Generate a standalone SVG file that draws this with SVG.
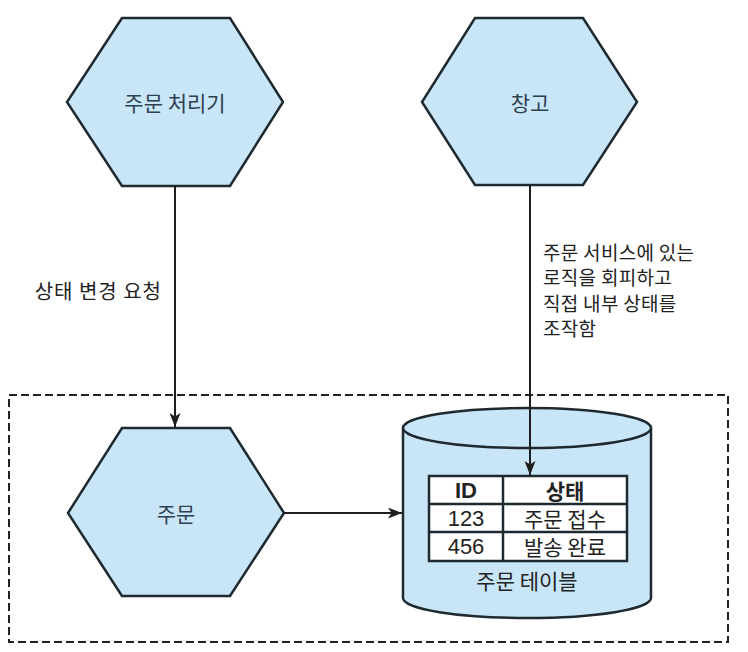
<svg xmlns="http://www.w3.org/2000/svg" width="748" height="652" viewBox="0 0 748 652">
<defs>
<style>
.hex{fill:#c8e6f8;stroke:#1e2a30;stroke-width:2.5;stroke-linejoin:miter}
.hl{font-family:"Noto Sans CJK KR","Noto Sans",sans-serif;font-size:21px;fill:#2f4050;text-anchor:middle;dominant-baseline:central}
.lbl{font-family:"Noto Sans CJK KR","Noto Sans",sans-serif;font-size:20px;fill:#222;dominant-baseline:central}
.rl{font-family:"Noto Sans CJK KR","Noto Sans",sans-serif;font-size:19px;fill:#222;dominant-baseline:central;letter-spacing:0.3px}
.conn{stroke:#1e1e1e;stroke-width:2;fill:none}
.cyl{fill:#c8e6f8;stroke:#1e2a30;stroke-width:2.5}
.cell{fill:#fff;stroke:#1e2a30;stroke-width:2.5}
.tt{font-family:"Liberation Sans","Noto Sans CJK KR",sans-serif;font-size:22px;fill:#222;text-anchor:middle;dominant-baseline:central}
.tk{font-family:"Noto Sans CJK KR",sans-serif;font-size:21px;fill:#222;text-anchor:middle;dominant-baseline:central}
</style>
<marker id="ah" viewBox="0 0 14 11" refX="14" refY="5.5" markerWidth="14" markerHeight="11" markerUnits="userSpaceOnUse" orient="auto">
<path d="M0,0 L14,5.5 L0,11 L3.5,5.5 Z" fill="#1e1e1e"/>
</marker>
</defs>
<rect x="9" y="395" width="719" height="247" fill="none" stroke="#222" stroke-width="2" stroke-dasharray="8,4"/>
<g id="order-processor">
<polygon class="hex" points="122,18 230,18 283,102 230,186 122,186 67,102"/>
<text class="hl" x="175" y="102">주문 처리기</text>
</g>
<g id="warehouse">
<polygon class="hex" points="475,18 583,18 637,102 583,185 475,185 422,102"/>
<text class="hl" x="530" y="102">창고</text>
</g>
<g id="order">
<polygon class="hex" points="122,428 230,428 284,513 230,596 122,596 68,513"/>
<text class="hl" x="176" y="513">주문</text>
</g>
<g id="order-table">
<path class="cyl" d="M403,428 L403,598 A124,20 0 0 0 651,598 L651,428"/>
<ellipse class="cyl" cx="527" cy="428" rx="124" ry="20"/>
<rect class="cell" x="429" y="476" width="198" height="85"/>
<line stroke="#1e2a30" stroke-width="2.5" x1="429" y1="504" x2="627" y2="504"/>
<line stroke="#1e2a30" stroke-width="2.5" x1="429" y1="532" x2="627" y2="532"/>
<line stroke="#1e2a30" stroke-width="2.5" x1="503" y1="476" x2="503" y2="561"/>
<text class="tt" x="466" y="490" font-weight="bold">ID</text>
<text class="tk" x="565" y="490" font-weight="bold">상태</text>
<text class="tt" x="466" y="518">123</text>
<text class="tk" x="565" y="518">주문 접수</text>
<text class="tt" x="466" y="546">456</text>
<text class="tk" x="565" y="546">발송 완료</text>
<text class="hl" x="527" y="580" style="fill:#222">주문 테이블</text>
</g>
<g id="connectors">
<line class="conn" x1="175" y1="186" x2="175" y2="427" marker-end="url(#ah)"/>
<line class="conn" x1="530" y1="185" x2="530" y2="475" marker-end="url(#ah)"/>
<line class="conn" x1="284" y1="513" x2="402" y2="513" marker-end="url(#ah)"/>
<text class="lbl" x="162" y="290" text-anchor="end" letter-spacing="1">상태 변경 요청</text>
<text class="rl" x="543" y="251">주문 서비스에 있는</text>
<text class="rl" x="543" y="276.5">로직을 회피하고</text>
<text class="rl" x="543" y="302">직접 내부 상태를</text>
<text class="rl" x="543" y="327.5">조작함</text>
</g>
</svg>
